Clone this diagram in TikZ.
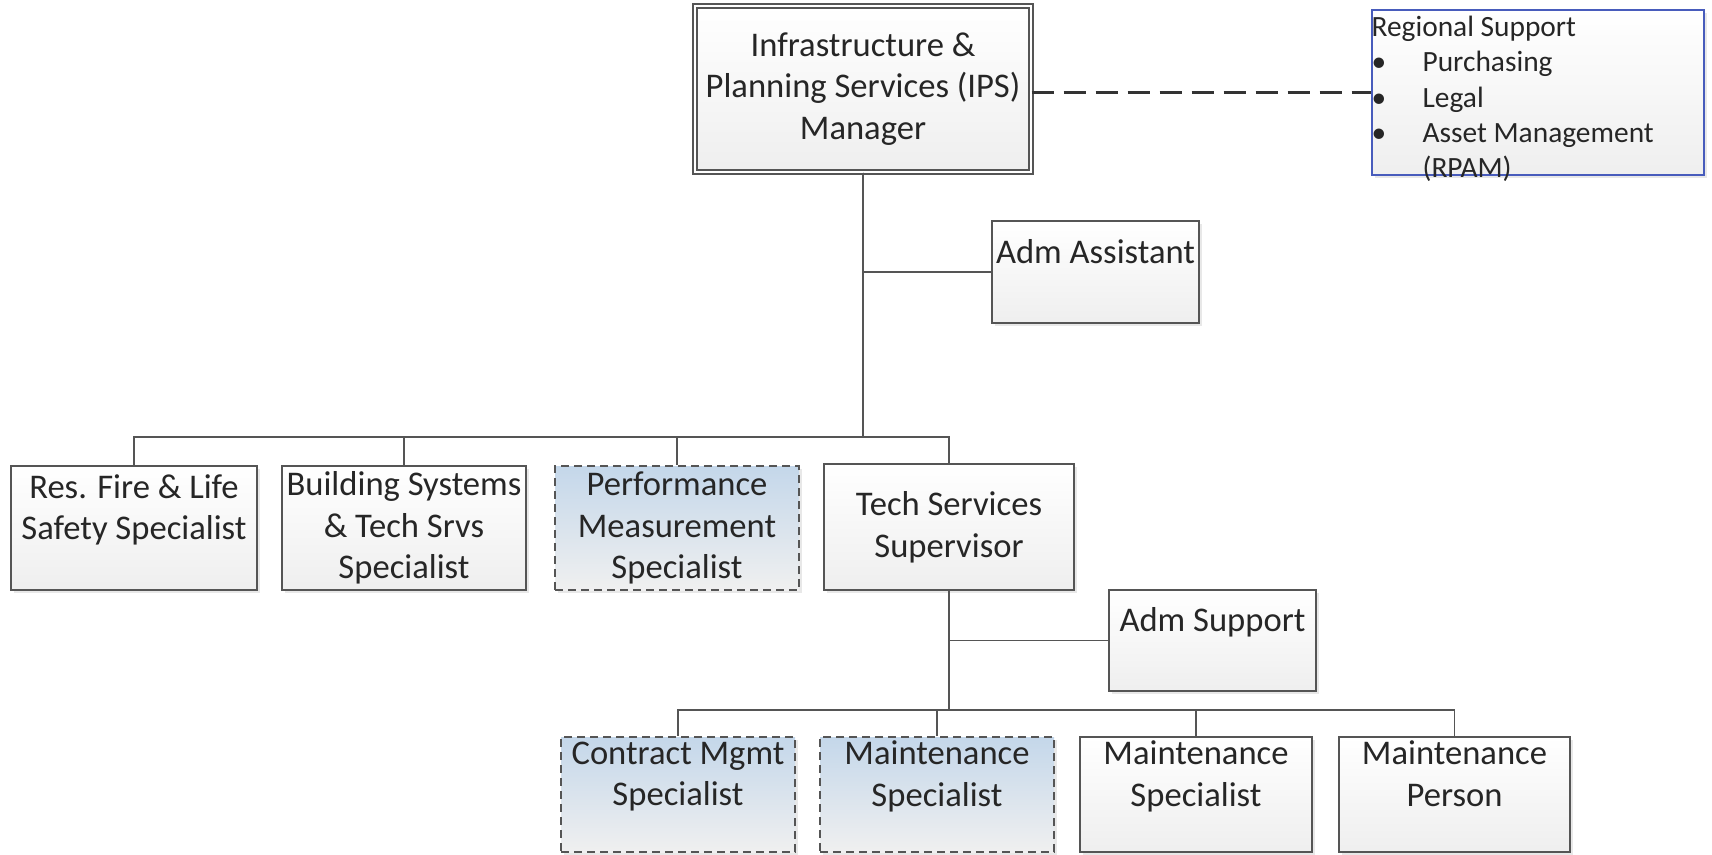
\documentclass[tikz,border=0pt]{standalone}
\usepackage{fontspec}
\setmainfont{Carlito}
\usetikzlibrary{shadows}
\definecolor{boxline}{RGB}{85,85,85}
\definecolor{regblue}{RGB}{72,92,188}
\definecolor{vacantblue}{RGB}{196,215,234}
\definecolor{txtgray}{RGB}{38,38,38}
\tikzset{
  unit/.style={draw=boxline, line width=1pt, top color=white, bottom color=gray!13,
    drop shadow={opacity=0.18, shadow xshift=1.5pt, shadow yshift=-1.5pt},
    align=center, text=txtgray, font=\fontsize{17.3}{20.8}\selectfont, inner sep=0pt},
  vacant/.style={unit, dash pattern=on 4pt off 2.5pt, top color=vacantblue, bottom color=gray!12},
  regtxt/.style={anchor=north west, inner sep=0pt, align=left, text=txtgray,
    font=\fontsize{14.7}{17.7}\selectfont, yshift=-1pt},
  link/.style={draw=boxline, line width=0.9pt},
}
\begin{document}
\begin{tikzpicture}[x=0.5pt,y=-0.5pt]
    \useasboundingbox (0,0) rectangle (1712,855);

    % top of the chart
    \node[unit, double=white, double distance=1.4pt, line width=0.7pt, minimum width=168pt, minimum height=83pt] (mgr) at (863,89) {Infrastructure \&\\Planning Services (IPS)\\Manager};
    \node[unit, minimum width=103.5pt, minimum height=51pt] (asst) at (1095.5,272) {Adm Assistant\\\mbox{}};
    \node[unit, draw=regblue, line width=0.8pt, minimum width=166pt, minimum height=82.5pt,
      label={[regtxt]north west:{\begin{tabular}{@{}p{25.5pt}@{}l@{}}
        \multicolumn{2}{@{}l@{}}{Regional Support}\\
        \textbullet & Purchasing\\
        \textbullet & Legal\\
        \textbullet & Asset Management\\
         & (RPAM)
      \end{tabular}}}] (reg) at (1538,92.5) {};

    % second row
    \node[unit, minimum width=123pt, minimum height=62pt] (fire) at (134,528) {Res. Fire \& Life\\Safety Specialist\\\mbox{}};
    \node[unit, minimum width=122pt, minimum height=62pt] (bldg) at (404,528) {Building Systems\\\& Tech Srvs\\Specialist};
    \node[vacant, minimum width=122pt, minimum height=62pt] (perf) at (677,528) {Performance\\Measurement\\Specialist};
    \node[unit, minimum width=125pt, minimum height=63pt] (tech) at (949,527) {Tech Services\\Supervisor};
    \node[unit, minimum width=103.5pt, minimum height=50.5pt] (adms) at (1212.5,640.5) {Adm Support\\\mbox{}};

    % third row
    \node[vacant, minimum width=117pt, minimum height=57.5pt] (cmgt) at (678,794.5) {Contract Mgmt\\Specialist\\\mbox{}};
    \node[vacant, minimum width=117pt, minimum height=57.5pt] (mspa) at (937,794.5) {Maintenance\\Specialist\\\mbox{}};
    \node[unit, minimum width=116pt, minimum height=57.5pt] (mspb) at (1196,794.5) {Maintenance\\Specialist\\\mbox{}};
    \node[unit, minimum width=115.5pt, minimum height=57.5pt] (mper) at (1454.5,794.5) {Maintenance\\Person\\\mbox{}};

    % connectors
    \coordinate (busA) at (863,437);
    \coordinate (busB) at (949,710);
    \draw[link] (mgr.south) |- (asst.west);
    \foreach \n in {fire,bldg,perf,tech}
        \draw[link] (mgr.south) -- (busA) -| (\n.north);
    \draw[link] (tech.south) |- (adms.west);
    \foreach \n in {cmgt,mspa,mspb,mper}
        \draw[link] (tech.south) -- (busB) -| (\n.north);
    \draw[link, draw=black!80, line width=1.1pt, dash pattern=on 11pt off 5pt] (reg.west -| mgr.east) -- (reg.west);
\end{tikzpicture}
\end{document}
